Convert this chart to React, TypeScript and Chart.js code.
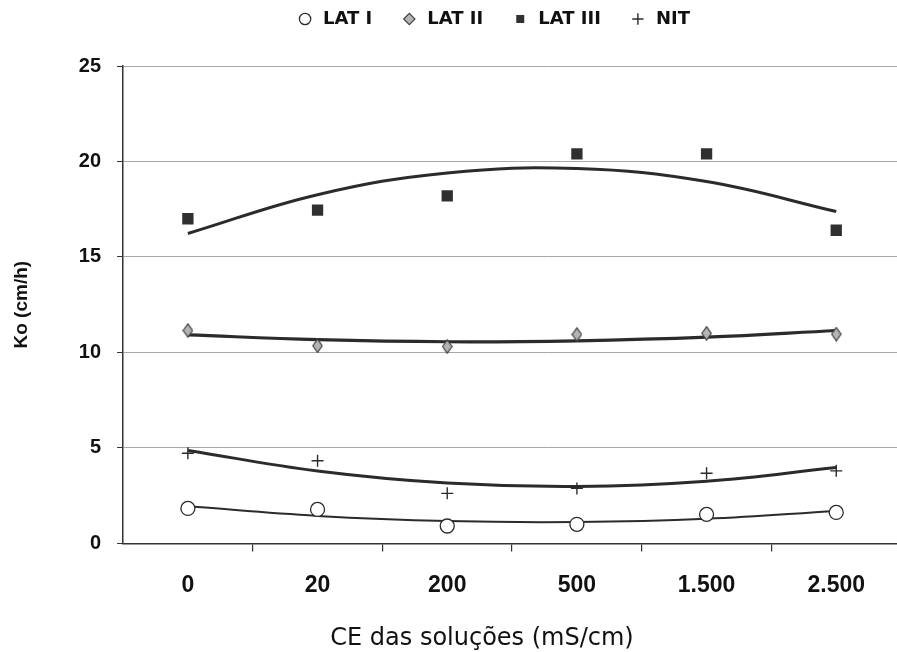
import React, { useEffect, useRef } from "react";
import { Chart, registerables } from "chart.js";

Chart.register(...registerables);

// ---- data ----
const categories = ["0", "20", "200", "500", "1.500", "2.500"];
const seriesNames = ["LAT I", "LAT II", "LAT III", "NIT"];
const latI = [1.83, 1.78, 0.91, 1.0, 1.52, 1.62];
const latII = [11.15, 10.35, 10.31, 10.94, 11.0, 10.96];
const latIII = [17.0, 17.45, 18.2, 20.4, 20.4, 16.4];
const nit = [4.72, 4.33, 2.62, 2.88, 3.67, 3.8];
// trend curves (polynomial trend lines) read at each category
const latITrend = [1.94, 1.44, 1.17, 1.12, 1.29, 1.7];
const latIITrend = [10.92, 10.67, 10.56, 10.61, 10.8, 11.15];
const latIIITrend = [16.23, 18.26, 19.4, 19.63, 18.95, 17.38];
const nitTrend = [4.87, 3.79, 3.16, 2.98, 3.25, 3.97];
const yTicks = [0, 5, 10, 15, 20, 25];
const xTitle = "CE das soluções (mS/cm)";
const yTitle = "Ko (cm/h)";

const CANVAS_W = 986;
const CANVAS_OFFSET_Y = 18;

const toPoints = (arr: number[]) => arr.map((v, i) => ({ x: i, y: v }));

function makeDiamond(w: number, h: number, fill: string, stroke: string) {
  const c = document.createElement("canvas");
  c.width = w;
  c.height = h;
  const g = c.getContext("2d")!;
  g.beginPath();
  g.moveTo(w / 2, 0.8);
  g.lineTo(w - 0.8, h / 2);
  g.lineTo(w / 2, h - 0.8);
  g.lineTo(0.8, h / 2);
  g.closePath();
  g.fillStyle = fill;
  g.fill();
  g.lineWidth = 1.2;
  g.strokeStyle = stroke;
  g.stroke();
  return c;
}

const xTitlePlugin = {
  id: "xTitleText",
  afterDraw(chart: any, _args: any, opts: any) {
    const { ctx } = chart;
    ctx.save();
    ctx.font = opts.font;
    ctx.fillStyle = opts.color;
    ctx.textAlign = "center";
    ctx.textBaseline = "middle";
    ctx.fillText(opts.text, chart.width * opts.xFrac, chart.height - opts.bottom);
    ctx.restore();
  },
};

export default function App() {
  const ref = useRef<HTMLCanvasElement>(null);

  useEffect(() => {
    const dark = "#2b2b2b";
    const diamond = makeDiamond(11, 15, "#b4b4b4", "#444");
    const lineDs = (label: string, data: number[], width: number) => ({
      label,
      data: toPoints(data),
      showLine: true,
      borderColor: dark,
      borderWidth: width,
      pointRadius: 0,
      pointHoverRadius: 0,
      tension: 0.4,
      fill: false,
      order: 2,
    });
    const chart = new Chart(ref.current!, {
      type: "line",
      data: {
        datasets: [
          {
            label: seriesNames[0],
            data: toPoints(latI),
            showLine: false,
            pointStyle: "circle",
            pointRadius: 7,
            backgroundColor: "#ffffff",
            borderColor: dark,
            borderWidth: 1.3,
            order: 1,
          },
          {
            label: seriesNames[1],
            data: toPoints(latII),
            showLine: false,
            pointStyle: diamond,
            pointRadius: 7,
            backgroundColor: "#b4b4b4",
            borderColor: "#444",
            borderWidth: 1.2,
            order: 1,
          },
          {
            label: seriesNames[2],
            data: toPoints(latIII),
            showLine: false,
            pointStyle: "rect",
            pointRadius: 8,
            backgroundColor: "#303030",
            borderColor: "#303030",
            borderWidth: 0,
            order: 1,
          },
          {
            label: seriesNames[3],
            data: toPoints(nit),
            showLine: false,
            pointStyle: "cross",
            pointRadius: 6,
            backgroundColor: dark,
            borderColor: dark,
            borderWidth: 1.4,
            order: 1,
          },
          lineDs("trend LAT I", latITrend, 2),
          lineDs("trend LAT II", latIITrend, 3.2),
          lineDs("trend LAT III", latIIITrend, 3),
          lineDs("trend NIT", nitTrend, 3),
        ],
      },
      options: {
        animation: false,
        responsive: true,
        maintainAspectRatio: false,
        layout: { padding: { left: 0, right: 0, top: 0, bottom: 33 } },
        plugins: {
          tooltip: { enabled: false },
          legend: {
            display: true,
            position: "top",
            align: "center",
            labels: {
              usePointStyle: true,
              boxWidth: 19,
              boxHeight: 8,
              padding: 28,
              color: "#111",
              font: { family: "'DejaVu Sans', sans-serif", size: 18, weight: "bold" },
              filter: (item: any) => item.datasetIndex < 4,
              generateLabels: (ch: any) => {
                const items = Chart.defaults.plugins.legend.labels.generateLabels(ch);
                return items.map((it: any) =>
                  it.datasetIndex === 1 ? { ...it, pointStyle: "rectRot" } : it
                );
              },
            },
          },
          // invisible spacer between the legend and the plot
          subtitle: {
            display: true,
            text: " ",
            position: "top",
            weight: 500,
            padding: 0,
            font: { size: 28, lineHeight: 1 },
          },
          xTitleText: {
            text: xTitle,
            font: "24px 'DejaVu Sans', sans-serif",
            color: "#111",
            xFrac: 482 / CANVAS_W,
            bottom: 13,
          },
        } as any,
        scales: {
          x: {
            type: "linear",
            min: -0.5,
            max: 6.06,
            afterBuildTicks: (scale: any) => {
              const t: any[] = [];
              for (let i = -1; i <= 12; i++) t.push({ value: i / 2 });
              scale.ticks = t;
            },
            ticks: {
              autoSkip: false,
              maxRotation: 0,
              padding: 20,
              color: "#111",
              font: { family: "'Liberation Sans', Arial, sans-serif", size: 23, weight: "bold" },
              callback: (v: any) => (Number.isInteger(v) && categories[v] !== undefined ? categories[v] : ""),
            },
            grid: {
              drawOnChartArea: false,
              drawTicks: true,
              tickLength: 8,
              lineWidth: 1.2,
              tickColor: (ctx: any) =>
                ctx.tick && !Number.isInteger(ctx.tick.value) && ctx.tick.value > -0.5 ? "#333" : "rgba(0,0,0,0)",
            },
            border: { color: "#333", width: 1.5 },
          },
          y: {
            min: 0,
            max: 25,
            afterBuildTicks: (scale: any) => {
              scale.ticks = yTicks.map((v) => ({ value: v }));
            },
            ticks: {
              padding: 16,
              color: "#111",
              font: { family: "'Liberation Sans', Arial, sans-serif", size: 20, weight: "bold" },
            },
            grid: {
              drawTicks: true,
              tickLength: 6,
              lineWidth: 1,
              color: (ctx: any) => (ctx.tick && ctx.tick.value === 0 ? "rgba(0,0,0,0)" : "#a8a8a8"),
              tickColor: "#333",
            },
            border: { color: "#333", width: 1.5 },
            title: {
              display: true,
              text: yTitle,
              color: "#111",
              font: { family: "'Liberation Sans', Arial, sans-serif", size: 19, weight: "bold" },
              padding: { top: 10, bottom: 30 },
            },
          },
        },
      },
      plugins: [xTitlePlugin],
    } as any);
    return () => chart.destroy();
  }, []);

  return (
    <div
      style={{
        position: "fixed",
        left: 0,
        top: 0,
        width: 897,
        height: 652,
        overflow: "hidden",
        background: "#fff",
      }}
    >
      <div
        style={{
          position: "absolute",
          left: 0,
          top: -CANVAS_OFFSET_Y,
          width: CANVAS_W,
          height: 652 + CANVAS_OFFSET_Y,
        }}
      >
        <canvas ref={ref} />
      </div>
    </div>
  );
}
